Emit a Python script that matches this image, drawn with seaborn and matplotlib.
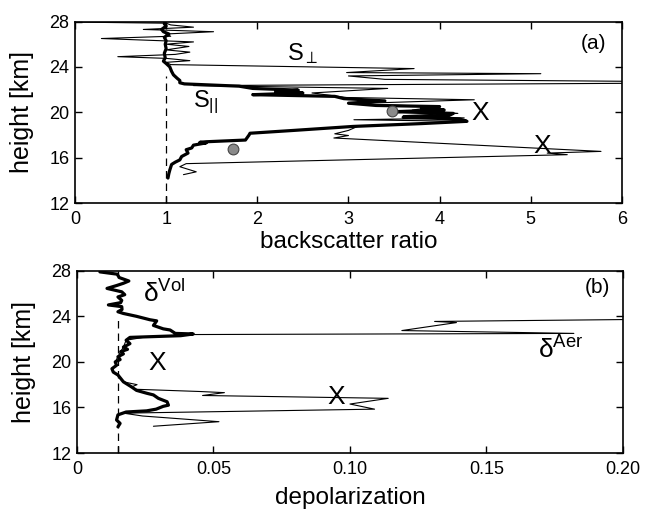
import numpy as np
import pandas as pd
import matplotlib
matplotlib.use("Agg")
import matplotlib.pyplot as plt
import seaborn as sns

# ---------------- data (panel a: backscatter ratio) ----------------
h_par = [14.2, 14.6, 14.9, 15.4, 15.6, 15.8, 16.1, 16.4, 16.7, 16.85, 17.1, 17.3, 17.35, 17.4,
         17.55, 18.0, 18.15, 18.4, 18.75, 19.0, 19.2, 19.4, 19.55, 19.7, 19.9, 20.05, 20.2,
         20.35, 20.5, 20.6, 20.8, 21.0, 21.2, 21.4, 21.55, 21.7, 21.8, 21.95, 22.1, 22.3,
         22.5, 22.6, 22.8, 23.0, 23.3, 23.6, 24.0, 24.3, 24.5, 24.8, 25.2, 25.6, 26.0, 26.3,
         26.6, 26.9, 27.1, 27.3, 27.6, 27.8, 28.0]
x_par = [1.02, 1.03, 1.04, 1.06, 1.10, 1.15, 1.17, 1.24, 1.22, 1.28, 1.30, 1.44, 1.37, 1.44,
         1.87, 1.91, 1.92, 2.40, 3.05, 3.80, 4.30, 4.22, 3.60, 4.10, 4.15, 3.50, 4.05,
         3.80, 4.00, 3.30, 3.00, 3.40, 2.95, 2.85, 1.95, 2.50, 2.20, 2.45, 1.95, 1.80,
         1.20, 1.15, 1.15, 1.12, 1.08, 1.06, 1.04, 1.00, 0.97, 0.99, 0.98, 1.00, 0.99, 1.00,
         0.98, 1.03, 0.97, 0.95, 1.00, 0.98, 0.99]

h_perp = [14.5, 14.75, 15.2, 15.47, 16.26, 16.4, 16.55, 17.73, 17.95, 18.1, 18.4, 18.75,
          19.2, 19.34, 19.5, 19.7, 19.9, 20.2, 20.5, 20.75, 21.1, 21.3, 21.7, 22.1, 22.35,
          22.57, 22.7, 22.9, 23.2, 23.4, 23.5, 23.85, 24.2, 24.4, 24.55, 24.75, 24.9, 25.1,
          25.3, 25.5, 25.8, 26.0, 26.2, 26.5, 26.7, 26.9, 27.1, 27.3, 27.5, 27.7, 27.85, 27.95]
x_perp = [1.19, 1.33, 1.15, 1.22, 5.40, 5.18, 5.77, 2.84, 3.00, 2.85, 3.00, 3.10,
          4.30, 3.06, 4.27, 3.60, 4.20, 3.70, 4.00, 3.00, 4.38, 2.98, 2.60, 3.43, 1.30,
          6.50, 6.50, 3.40, 3.00, 5.11, 2.98, 3.72, 1.05, 1.00, 1.26, 1.00, 0.47, 1.10,
          1.26, 1.00, 1.25, 1.00, 1.30, 0.29, 1.05, 1.00, 1.52, 0.75, 1.30, 1.05, 1.00, 0.0]

dots_x = [1.73, 3.48]
dots_h = [16.8, 20.07]

# ---------------- data (panel b: depolarization) ----------------
h_vol = [14.3, 14.6, 14.9, 15.35, 15.6, 15.7, 15.85, 16.1, 16.2, 16.5, 16.8, 17.1, 17.25,
         17.5, 17.8, 17.95, 18.25, 18.55, 18.85, 19.1, 19.4, 19.7, 20.0, 20.2, 20.45, 20.7,
         20.9, 21.1, 21.3, 21.6, 21.9, 22.15, 22.2, 22.3, 22.45, 22.5, 22.8, 22.9, 23.2,
         23.6, 23.7, 24.0, 24.25, 24.4, 24.6, 24.85, 25.0, 25.2, 25.4, 25.7, 25.9, 26.15,
         26.45, 26.7, 26.9, 27.1, 27.4, 27.7, 27.9]
x_vol = [0.0150, 0.0158, 0.0145, 0.0150, 0.0180, 0.0255, 0.0290, 0.0316, 0.0335, 0.0330,
         0.0298, 0.0280, 0.0255, 0.0218, 0.0200, 0.0190, 0.0170, 0.0160, 0.0150, 0.0133,
         0.0128, 0.0145, 0.0140, 0.0158, 0.0150, 0.0170, 0.0160, 0.0185, 0.0170, 0.0194,
         0.0180, 0.0194, 0.0255, 0.0380, 0.0426, 0.0360, 0.0341, 0.0316, 0.0280, 0.0292,
         0.0267, 0.0218, 0.0170, 0.0150, 0.0165, 0.0164, 0.0115, 0.0160, 0.0164, 0.0150,
         0.0175, 0.0164, 0.0110, 0.0145, 0.0170, 0.0190, 0.0155, 0.0147, 0.0084]

h_aer = [14.35, 14.75, 15.25, 15.5, 15.85, 16.3, 16.8, 17.05, 17.3, 17.4, 17.6, 17.8, 18.0,
         18.25, 18.55, 18.85, 19.1, 19.4, 19.7, 20.0, 20.45, 20.9, 21.3, 21.9, 22.2, 22.4,
         22.5, 22.75, 23.45, 23.55, 23.75]
x_aer = [0.028, 0.052, 0.024, 0.017, 0.109, 0.100, 0.114, 0.046, 0.054, 0.045, 0.021, 0.020,
         0.022, 0.017, 0.016, 0.015, 0.0133, 0.0128, 0.0145, 0.014, 0.015, 0.016, 0.017,
         0.018, 0.0255, 0.043, 0.182, 0.119, 0.139, 0.131, 0.215]

# ---------------- style ----------------
sns.set_theme(style="ticks")
plt.rcParams["font.family"] = ["Liberation Sans", "DejaVu Sans"]
plt.rcParams["mathtext.fontset"] = "custom"
plt.rcParams["mathtext.rm"] = "Liberation Sans"
plt.rcParams["mathtext.it"] = "Liberation Sans:italic"
plt.rcParams["mathtext.bf"] = "Liberation Sans:bold"
plt.rcParams["text.color"] = "black"
plt.rcParams["axes.labelcolor"] = "black"
plt.rcParams["xtick.color"] = "black"
plt.rcParams["ytick.color"] = "black"

fig = plt.figure(figsize=(6.48, 5.12), dpi=100)
ax1 = fig.add_axes([0.1157, 0.6035, 0.8441, 0.3545])
ax2 = fig.add_axes([0.1188, 0.1152, 0.8426, 0.3560])

thin = dict(color="black", linewidth=0.8)
thick = dict(color="black", linewidth=2.3)

df_perp = pd.DataFrame({"x": x_perp, "h": h_perp})
df_par = pd.DataFrame({"x": x_par, "h": h_par})
sns.lineplot(data=df_perp, x="x", y="h", sort=False, estimator=None, ax=ax1, **thin)
sns.lineplot(data=df_par, x="x", y="h", sort=False, estimator=None, ax=ax1, **thick)
ax1.plot([1, 1], [12, 23.2], color="black", linestyle=(0, (6, 4)), linewidth=0.9)
sns.scatterplot(x=dots_x, y=dots_h, ax=ax1, s=60, color="#8a8a8a",
                edgecolor="#444444", linewidth=0.8, zorder=5)

df_aer = pd.DataFrame({"x": x_aer, "h": h_aer})
df_vol = pd.DataFrame({"x": x_vol, "h": h_vol})
sns.lineplot(data=df_aer, x="x", y="h", sort=False, estimator=None, ax=ax2, **thin)
sns.lineplot(data=df_vol, x="x", y="h", sort=False, estimator=None, ax=ax2, **thick)
ax2.plot([0.015, 0.015], [12, 24.0], color="black", linestyle=(0, (6, 4)), linewidth=0.9)

# axes formatting
for ax in (ax1, ax2):
    ax.set_ylim(12, 28)
    ax.set_yticks([12, 16, 20, 24, 28])
    ax.tick_params(direction="in", top=True, right=True, length=5, width=1.0,
                   labelsize=13, pad=6, color="black", labelcolor="black")
    ax.tick_params(axis="y", pad=4)
    for s in ax.spines.values():
        s.set_linewidth(1.2)
        s.set_color("black")
    ax.set_ylabel("height [km]", fontsize=18, labelpad=11)

ax1.set_xlim(0, 6)
ax1.set_xticks([0, 1, 2, 3, 4, 5, 6])
ax1.set_xlabel("backscatter ratio", fontsize=17.5, labelpad=2)

ax2.set_xlim(0, 0.20)
ax2.set_xticks([0, 0.05, 0.10, 0.15, 0.20])
ax2.set_xticklabels(["0", "0.05", "0.10", "0.15", "0.20"])
ax2.set_xticks([0.015], minor=True)
ax2.tick_params(axis="x", which="minor", direction="in", top=True, length=5, width=1.0,
                color="black")
ax2.set_xlabel("depolarization", fontsize=17.5, labelpad=6)

# annotations panel a
ax1.text(5.69, 26.1, "(a)", fontsize=15, ha="center", va="center")
ax1.text(2.5, 25.2, r"S$_{\perp}$", fontsize=17, ha="center", va="center")
ax1.text(1.43, 20.9, r"S$_{||}$", fontsize=17, ha="center", va="center")
ax1.text(4.45, 19.95, "X", fontsize=19, ha="center", va="center")
ax1.text(5.13, 17.05, "X", fontsize=19, ha="center", va="center")

# annotations panel b
ax2.text(0.1905, 26.5, "(b)", fontsize=15, ha="center", va="center")
ax2.text(0.0319, 26.0, r"δ$^{\mathrm{Vol}}$", fontsize=19, ha="center", va="center")
ax2.text(0.177, 21.05, r"δ$^{\mathrm{Aer}}$", fontsize=19, ha="center", va="center")
ax2.text(0.0293, 19.9, "X", fontsize=19, ha="center", va="center")
ax2.text(0.0949, 16.93, "X", fontsize=19, ha="center", va="center")

fig.savefig("out.png", dpi=100)
